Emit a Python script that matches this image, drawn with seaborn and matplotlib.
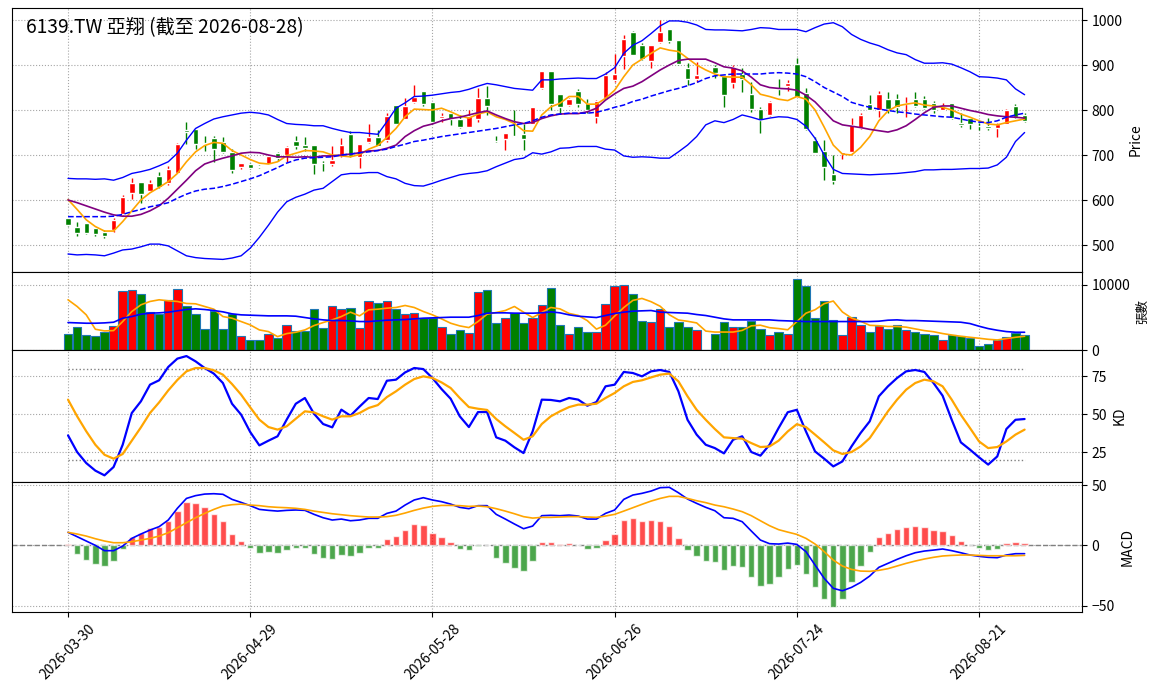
import numpy as np
import matplotlib
matplotlib.use("Agg")
import matplotlib.pyplot as plt
import seaborn as sns

sns.set_style("ticks")
plt.rcParams['font.family'] = ['Noto Sans CJK TC', 'DejaVu Sans']
plt.rcParams['axes.edgecolor'] = 'black'
plt.rcParams['text.color'] = 'black'
plt.rcParams['xtick.color'] = 'black'
plt.rcParams['ytick.color'] = 'black'
plt.rcParams['axes.labelcolor'] = 'black'

title = "6139.TW 亞翔 (截至 2026-08-28)"
tick_pos = [0, 20, 40, 60, 80, 100]
tick_labels = ["2026-03-30", "2026-04-29", "2026-05-28", "2026-06-26", "2026-07-24", "2026-08-21"]

# 日K (第70根沒有資料)
nan = np.nan
opens = [559, 539, 548, 537, 530, 533, 569, 616, 640, 621, 653, 637, 659, 755, 757, 727, 737, 728, 707, 673,
         681, 675, 680, 704, 701, 732, 722, 722, 683, 680, 700, 746, 696, 728, 741, 733, 811, 781, 818, 842,
         817, 783, 793, 781, 763, 780, 826, 732, 735, 742, 746, 770, 848, 887, 836, 811, 842, 816, 784, 826,
         867, 921, 973, 944, 909, 952, 981, 956, 893, 869, nan, 896, 875, 860, 880, 835, 802, 789, 847, 854,
         902, 837, 733, 710, 658, 702, 706, 760, 813, 801, 824, 824, 813, 824, 824, 815, 801, 816, 772, 782,
         765, 764, 759, 770, 808, 790]
highs = [561, 552, 549, 538, 533, 559, 611, 648, 641, 644, 663, 676, 726, 774, 757, 742, 742, 741, 713, 683,
         682, 677, 700, 707, 720, 742, 740, 722, 687, 720, 737, 753, 724, 770, 756, 793, 811, 826, 856, 842,
         817, 794, 793, 789, 800, 850, 853, 742, 750, 800, 770, 806, 887, 887, 836, 826, 846, 824, 822, 885,
         924, 967, 976, 948, 944, 1000, 981, 956, 905, 907, nan, 899, 875, 900, 893, 863, 806, 819, 869, 867,
         915, 850, 740, 733, 700, 707, 782, 793, 833, 842, 840, 836, 828, 839, 832, 821, 816, 816, 793, 784,
         772, 782, 771, 802, 813, 793]
lows = [543, 521, 525, 521, 515, 530, 567, 602, 593, 618, 626, 633, 659, 724, 713, 710, 685, 705, 659, 670,
        669, 672, 680, 687, 685, 713, 710, 658, 665, 676, 696, 696, 672, 727, 719, 730, 769, 779, 816, 809,
        769, 774, 767, 761, 762, 774, 789, 730, 712, 739, 711, 770, 846, 800, 794, 809, 807, 793, 772, 824,
        863, 891, 922, 911, 894, 950, 948, 899, 856, 862, nan, 871, 807, 850, 839, 796, 750, 787, 834, 843,
        830, 756, 705, 644, 636, 691, 704, 758, 801, 784, 793, 794, 784, 807, 803, 793, 801, 781, 763, 757,
        756, 756, 740, 769, 782, 774]
closes = [545, 526, 526, 524, 519, 556, 606, 638, 613, 637, 630, 670, 724, 752, 724, 725, 713, 707, 667, 683,
          672, 674, 698, 693, 718, 721, 715, 681, 682, 689, 722, 698, 724, 741, 721, 787, 770, 809, 828, 813,
          774, 787, 781, 763, 787, 826, 809, 731, 750, 741, 735, 806, 887, 813, 807, 824, 813, 799, 819, 878,
          880, 958, 922, 913, 944, 973, 954, 902, 868, 877, nan, 882, 834, 896, 870, 802, 778, 817, 846, 860,
          830, 757, 705, 673, 643, 707, 767, 788, 801, 836, 803, 806, 816, 810, 805, 799, 808, 783, 767, 769,
          764, 759, 770, 800, 784, 776]

ma5 = [601, 579, 556, 541, 531, 531, 552, 576, 600, 616, 628, 641, 659, 685, 707, 721, 728, 726, 710, 700,
       690, 682, 680, 685, 698, 704, 710, 709, 707, 700, 698, 696, 701, 713, 721, 739, 759, 785, 802, 801,
       800, 804, 796, 787, 782, 791, 796, 785, 779, 770, 754, 753, 789, 807, 815, 830, 830, 813, 813, 826,
       844, 874, 900, 913, 926, 938, 933, 930, 915, 900, 889, 880, 874, 873, 873, 856, 835, 830, 824, 821,
       830, 824, 800, 762, 722, 702, 700, 717, 741, 776, 798, 809, 813, 816, 811, 809, 806, 800, 791, 784,
       776, 769, 767, 772, 776, 780]
ma10 = [600, 594, 587, 580, 573, 567, 564, 564, 568, 576, 587, 604, 624, 644, 665, 680, 687, 693, 698, 704,
        706, 705, 700, 696, 696, 695, 696, 695, 698, 698, 700, 702, 705, 709, 710, 715, 722, 741, 754, 764,
        769, 776, 781, 784, 789, 794, 798, 789, 781, 774, 770, 772, 781, 787, 791, 792, 792, 796, 804, 822,
        836, 848, 853, 863, 876, 889, 900, 910, 913, 913, 913, 905, 896, 893, 887, 873, 856, 850, 848, 847,
        844, 833, 818, 797, 776, 767, 764, 761, 757, 754, 751, 756, 765, 779, 794, 806, 809, 809, 804, 799,
        795, 790, 787, 785, 784, 782]
ma20 = [563, 563, 563, 563, 563, 564, 568, 574, 579, 585, 589, 594, 604, 613, 620, 624, 626, 630, 635, 641,
        647, 654, 663, 672, 682, 689, 693, 694, 695, 696, 700, 702, 705, 707, 710, 713, 719, 724, 730, 733,
        737, 741, 744, 747, 750, 753, 756, 759, 763, 767, 770, 776, 784, 789, 791, 793, 793, 793, 795, 800,
        806, 811, 819, 824, 831, 837, 843, 848, 854, 861, 870, 876, 878, 880, 880, 880, 880, 882, 883, 882,
        880, 874, 863, 850, 840, 830, 817, 811, 806, 802, 799, 796, 794, 791, 789, 787, 785, 784, 780, 776,
        773, 772, 776, 784, 789, 793]
bb_upper = [648, 647, 647, 646, 647, 644, 650, 659, 663, 668, 676, 685, 704, 733, 759, 770, 780, 785, 789, 793,
            795, 793, 789, 779, 770, 768, 767, 765, 765, 759, 754, 750, 750, 748, 746, 774, 804, 816, 830, 831,
            833, 836, 839, 841, 846, 853, 859, 856, 852, 848, 846, 844, 867, 867, 869, 870, 871, 870, 870, 880,
            894, 926, 944, 954, 970, 987, 998, 998, 995, 989, 979, 978, 978, 977, 976, 979, 983, 982, 979, 979,
            979, 974, 983, 991, 994, 985, 968, 957, 949, 943, 934, 927, 923, 912, 904, 904, 905, 902, 894, 885,
            874, 873, 871, 867, 847, 834]
bb_lower = [480, 478, 479, 478, 476, 482, 489, 491, 496, 502, 502, 498, 487, 476, 472, 470, 469, 468, 471, 476,
            493, 517, 544, 573, 596, 606, 613, 622, 626, 641, 656, 659, 659, 661, 661, 652, 647, 637, 632, 631,
            637, 644, 650, 656, 659, 661, 665, 674, 682, 690, 693, 705, 702, 707, 715, 716, 719, 719, 719, 713,
            711, 698, 695, 696, 695, 693, 693, 707, 722, 741, 767, 776, 772, 779, 789, 784, 778, 782, 785, 784,
            779, 764, 737, 700, 668, 659, 658, 657, 656, 657, 658, 659, 661, 663, 667, 667, 668, 668, 669, 670,
            670, 671, 678, 695, 730, 750]

# 成交量 (張)
volume = [2513, 3590, 2359, 2205, 2820, 3744, 8974, 9128, 8564, 5795, 5590, 7590, 9282, 6667, 5590, 3180, 6051, 3282, 5538, 2205,
          1590, 1590, 2513, 1897, 3846, 2974, 2872, 6205, 3436, 6667, 6205, 6359, 3436, 7436, 7180, 7436, 6205, 5590, 5744, 4974,
          4974, 3590, 2513, 3128, 2667, 8820, 9128, 4205, 4974, 5744, 4205, 4974, 6923, 9487, 3846, 2513, 3590, 2820, 2820, 6974,
          9744, 9897, 8564, 4513, 4359, 6205, 3590, 4359, 3590, 3128, 0, 2513, 4359, 3487, 3487, 4513, 3282, 2308, 2820, 2513,
          10820, 9744, 4974, 7436, 4667, 2308, 5128, 3846, 2820, 3744, 3282, 3846, 3128, 2820, 2513, 2359, 1590, 2359, 2205, 1897,
          667, 974, 1538, 2000, 2564, 2359]
vol_ma5 = [7692, 6667, 5385, 3180, 2923, 2974, 4359, 5897, 6923, 7436, 7692, 7538, 7436, 7128, 7077, 6667, 6256, 5128, 4872, 4359,
           3846, 3077, 2820, 2051, 2513, 2718, 3077, 3744, 4205, 4615, 5128, 5795, 5231, 6154, 6256, 6410, 6513, 6821, 6513, 5897,
           5385, 4769, 4103, 3692, 3436, 4359, 5487, 5744, 6051, 6667, 5795, 4974, 5744, 6513, 6300, 5600, 5300, 4500, 3200, 3800,
           5200, 6500, 7600, 7900, 7400, 6700, 5400, 4600, 4400, 4150, 2900, 2750, 2750, 2750, 3000, 3700, 3800, 3420, 3280, 3100,
           4350, 5640, 6170, 7100, 7500, 5830, 4900, 4400, 3780, 3720, 3600, 3600, 3500, 3230, 2970, 2800, 2520, 2300, 2100, 1950,
           1800, 1640, 1540, 1750, 1950, 2100]
vol_ma20 = [4205, 4154, 4102, 4102, 4154, 4256, 4872, 5128, 5487, 5641, 5692, 5795, 6000, 6205, 6308, 6205, 6051, 5846, 5538, 5385,
            5333, 5282, 5231, 5231, 5231, 5179, 4974, 4769, 4615, 4513, 4513, 4462, 4359, 4359, 4462, 4564, 4615, 4667, 4769, 4872,
            4923, 4974, 5026, 5026, 5026, 5282, 5641, 5692, 5692, 5641, 5641, 5641, 5692, 5846, 5692, 5385, 5179, 5077, 4974, 5282,
            5590, 5795, 5949, 6000, 6051, 5795, 5744, 5692, 5641, 5436, 5282, 5026, 4769, 4615, 4615, 4615, 4615, 4615, 4513, 4462,
            4410, 4359, 4359, 4359, 4359, 4359, 4359, 4359, 4359, 4410, 4564, 4615, 4513, 4513, 4462, 4410, 4359, 4308, 4256, 4051,
            3641, 3282, 3026, 2820, 2718, 2718]

k_vals = [36.0, 25.0, 17.7, 12.7, 9.6, 15.1, 29.8, 50.8, 58.5, 69.5, 72.4, 81.2, 86.7, 88.4, 84.9, 80.5, 76.8, 70.6, 56.9, 49.7,
          38.2, 29.4, 32.5, 35.4, 46.4, 56.9, 60.7, 50.3, 43.5, 41.3, 53.0, 49.0, 55.0, 60.7, 60.0, 72.1, 72.8, 77.6, 80.5, 79.8,
          73.9, 66.6, 60.2, 48.6, 41.5, 51.4, 51.4, 34.7, 32.5, 28.1, 24.3, 38.7, 59.6, 59.4, 58.5, 60.7, 59.6, 55.6, 58.0, 68.4,
          69.5, 77.9, 77.2, 75.0, 78.3, 79.2, 77.9, 65.1, 46.3, 36.5, 29.8, 27.6, 24.1, 33.1, 35.4, 25.0, 22.6, 29.8, 40.9, 51.3,
          52.9, 38.6, 25.4, 20.6, 15.5, 18.8, 28.7, 37.6, 45.3, 61.8, 68.4, 73.9, 78.3, 79.2, 77.9, 70.6, 62.2, 46.3, 31.4, 26.6,
          21.5, 16.7, 22.1, 40.2, 46.3, 46.8]
d_vals = [59.6, 48.6, 38.7, 29.8, 23.2, 20.6, 23.7, 32.5, 41.3, 50.8, 57.8, 65.7, 72.6, 78.3, 80.5, 80.5, 79.0, 76.1, 69.9, 62.9,
          54.5, 46.4, 41.5, 39.8, 42.0, 47.0, 51.9, 51.2, 48.6, 46.4, 48.6, 48.6, 50.8, 54.1, 56.0, 61.3, 65.1, 69.5, 73.2, 75.0,
          73.9, 71.0, 67.3, 60.7, 54.7, 53.6, 52.8, 46.8, 42.0, 37.6, 33.1, 35.4, 43.5, 48.6, 51.9, 54.7, 56.3, 56.3, 56.9, 60.7,
          64.0, 68.4, 71.3, 72.4, 74.3, 76.1, 76.8, 71.7, 61.8, 52.9, 46.3, 40.2, 34.7, 34.2, 33.8, 30.9, 28.3, 28.7, 32.5, 38.6,
          43.4, 41.5, 36.5, 31.4, 26.1, 23.7, 25.0, 28.7, 34.2, 43.0, 51.9, 59.6, 66.2, 70.6, 72.8, 71.7, 68.4, 59.6, 49.6, 40.9,
          32.0, 27.6, 28.3, 32.0, 36.5, 39.8]

dif = [10.8, 7.2, 3.6, 0.0, -4.4, -4.4, -0.6, 5.8, 9.4, 12.7, 15.5, 21.0, 30.7, 38.9, 41.2, 42.5, 42.8, 42.3, 38.1, 35.6,
       32.9, 29.8, 29.0, 28.4, 29.0, 29.3, 29.0, 25.7, 22.9, 21.0, 21.8, 20.4, 21.0, 22.4, 22.4, 26.5, 28.4, 33.4, 37.6, 39.5,
       37.6, 36.2, 34.2, 31.5, 30.4, 32.9, 32.9, 25.7, 21.8, 17.7, 13.8, 16.0, 24.6, 24.9, 24.6, 25.1, 24.3, 21.8, 21.8, 26.5,
       29.3, 38.1, 41.7, 43.1, 45.0, 47.8, 48.1, 43.6, 38.4, 34.8, 31.5, 28.7, 22.9, 22.4, 19.6, 11.9, 4.4, 1.4, 1.1, 1.9,
       0.8, -5.2, -16.3, -27.3, -35.6, -37.6, -34.8, -30.7, -25.4, -18.2, -14.9, -11.6, -8.6, -6.1, -4.7, -3.9, -3.0, -4.4, -6.1, -8.0,
       -9.1, -9.9, -10.2, -8.0, -6.9, -6.9]
dea = [10.8, 9.4, 7.7, 5.5, 3.6, 2.2, 2.2, 3.0, 4.4, 5.8, 7.7, 10.5, 14.6, 18.8, 22.9, 26.5, 29.8, 32.6, 33.7, 34.2,
       33.4, 32.9, 32.0, 31.5, 31.2, 30.7, 29.8, 28.4, 27.3, 26.2, 25.4, 24.6, 24.0, 23.5, 23.5, 23.8, 24.9, 26.8, 29.0, 30.9,
       32.3, 33.1, 33.1, 32.9, 32.3, 32.6, 32.0, 30.4, 28.4, 26.2, 23.8, 22.6, 23.2, 23.2, 23.5, 23.8, 23.8, 23.5, 23.2, 24.3,
       25.7, 28.4, 31.2, 34.0, 36.7, 38.9, 40.6, 40.6, 38.9, 37.0, 35.4, 33.4, 32.0, 30.1, 27.9, 24.6, 20.4, 16.3, 13.0, 11.0,
       9.1, 5.8, 1.1, -5.2, -12.2, -17.1, -19.9, -21.3, -21.5, -20.7, -19.3, -17.1, -14.9, -13.0, -11.3, -9.9, -8.8, -8.3, -8.0, -8.0,
       -8.3, -8.6, -8.6, -8.6, -8.6, -8.3]
macd_hist = [1.1, -7.2, -12.2, -15.5, -17.1, -13.0, -3.0, 6.9, 10.2, 14.4, 15.5, 19.9, 28.4, 35.9, 35.1, 31.8, 26.0, 20.2, 9.4, 3.6,
             -2.2, -6.4, -5.5, -6.4, -3.9, -2.2, -2.2, -7.2, -10.5, -11.3, -8.0, -8.8, -6.1, -2.2, -2.2, 5.2, 7.7, 12.7, 17.7, 16.8,
             10.2, 6.9, 2.8, -3.0, -3.9, -0.4, 0.3, -10.5, -14.4, -18.8, -21.0, -12.7, 2.8, 2.8, 1.1, 1.9, 0.3, -2.8, -1.9, 4.4,
             9.7, 21.0, 22.6, 20.2, 21.0, 20.2, 16.0, 6.1, -3.9, -8.8, -13.0, -13.8, -20.4, -17.1, -18.0, -26.2, -33.7, -32.0, -26.2, -19.6,
             -16.3, -23.8, -34.5, -44.5, -51.1, -44.5, -30.4, -17.1, -5.5, 6.9, 10.2, 13.5, 15.2, 16.0, 15.2, 12.7, 11.9, 8.6, 3.6, 0.3,
             -2.2, -3.9, -3.0, 1.9, 2.8, 1.9]

idx = np.arange(len(closes))
o = np.array(opens, dtype=float)
h = np.array(highs, dtype=float)
l = np.array(lows, dtype=float)
c = np.array(closes, dtype=float)
ok = ~np.isnan(c)
up = c >= o
candle_colors = np.where(up, 'red', 'green')

fig, axes = plt.subplots(4, 1, figsize=(11.63, 6.98), dpi=100, sharex=True,
                         gridspec_kw={'height_ratios': [264, 78, 132, 130], 'hspace': 0})
fig.subplots_adjust(left=12/1163, right=1082/1163, top=1-8/698, bottom=1-612/698)
ax_p, ax_v, ax_kd, ax_m = axes

# 價格
ax_p.vlines(idx[ok], l[ok], h[ok], colors=candle_colors[ok], linewidth=1, zorder=2)
body_bottom = np.minimum(o, c)[ok]
body_h = np.maximum(np.abs(c - o)[ok], 0.8)
ax_p.bar(idx[ok], body_h, bottom=body_bottom, width=0.6, color=candle_colors[ok], zorder=3)
sns.lineplot(x=idx, y=ma5, ax=ax_p, color='orange', linewidth=1.2, zorder=4)
sns.lineplot(x=idx, y=ma10, ax=ax_p, color='purple', linewidth=1.2, zorder=4)
sns.lineplot(x=idx, y=ma20, ax=ax_p, color='blue', linewidth=1.1, linestyle='--', zorder=4)
sns.lineplot(x=idx, y=bb_upper, ax=ax_p, color='blue', linewidth=1.0, zorder=4)
sns.lineplot(x=idx, y=bb_lower, ax=ax_p, color='blue', linewidth=1.0, zorder=4)
ax_p.set_ylim(440, 1026.7)
ax_p.set_yticks([500, 600, 700, 800, 900, 1000])
ax_p.set_ylabel('Price', fontsize=10)
ax_p.text(0.013, 0.965, title, transform=ax_p.transAxes, fontsize=13.8, fontweight='medium',
          va='top', ha='left')

# 成交量
vol_colors = np.where(up | np.isnan(c), 'red', 'green')
ax_v.bar(idx, volume, width=0.92, color=vol_colors, edgecolor='#1f77b4', linewidth=0.8, zorder=2)
sns.lineplot(x=idx, y=vol_ma5, ax=ax_v, color='orange', linewidth=1.2, zorder=3)
sns.lineplot(x=idx, y=vol_ma20, ax=ax_v, color='blue', linewidth=1.2, zorder=3)
ax_v.set_ylim(0, 11950)
ax_v.set_yticks([0, 10000])
ax_v.set_ylabel('張數', fontsize=9)

# KD
sns.lineplot(x=idx, y=k_vals, ax=ax_kd, color='blue', linewidth=1.6, zorder=3)
sns.lineplot(x=idx, y=d_vals, ax=ax_kd, color='orange', linewidth=1.6, zorder=3)
ax_kd.hlines([80, 20], idx[0], idx[-1], colors='gray', linestyles=':', linewidth=1, zorder=2)
ax_kd.set_ylim(5.2, 92.4)
ax_kd.set_yticks([25, 50, 75])
ax_kd.set_ylabel('KD', fontsize=10)

# MACD
hist = np.array(macd_hist)
hist_colors = np.where(hist >= 0, 'red', 'green')
ax_m.bar(idx, hist, width=0.7, color=hist_colors, alpha=0.7, zorder=2)
sns.lineplot(x=idx, y=dif, ax=ax_m, color='blue', linewidth=1.2, zorder=3)
sns.lineplot(x=idx, y=dea, ax=ax_m, color='orange', linewidth=1.2, zorder=3)
ax_m.axhline(0, color='gray', linestyle='--', linewidth=1, zorder=1)
ax_m.set_ylim(-55.2, 52.5)
ax_m.set_yticks([-50, 0, 50])
ax_m.set_ylabel('MACD', fontsize=10)

for ax in axes:
    ax.yaxis.tick_right()
    ax.yaxis.set_label_position('right')
    ax.grid(True, linestyle=':', color='gray', linewidth=0.8, alpha=0.7)
    ax.tick_params(axis='y', labelsize=10, length=3.5)
    ax.set_xlim(-6.15, 111.3)
    for s in ax.spines.values():
        s.set_visible(True)
        s.set_color('black')
for ax in axes[:-1]:
    ax.tick_params(axis='x', bottom=False, labelbottom=False)

ax_m.set_xticks(tick_pos)
ax_m.set_xticklabels(tick_labels, rotation=45, fontsize=10)

fig.savefig('out.png', dpi=100)
